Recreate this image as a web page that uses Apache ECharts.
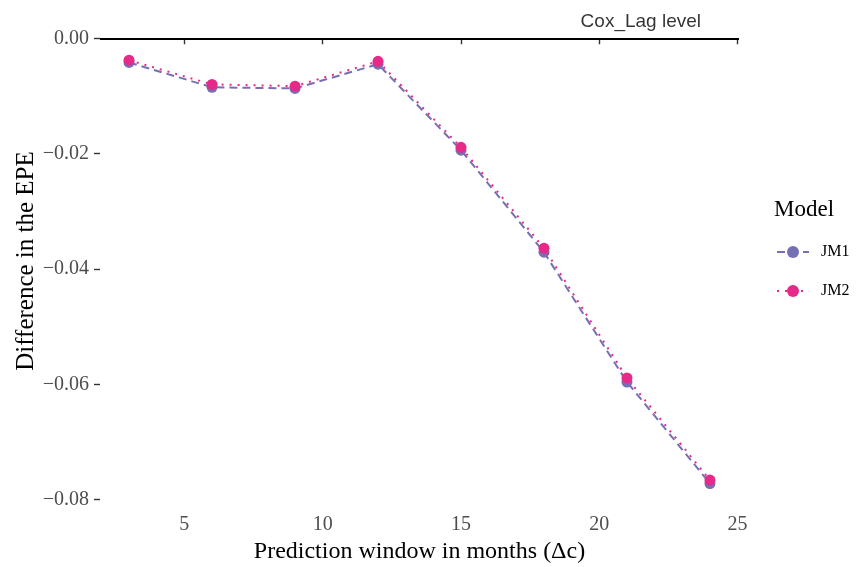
<!DOCTYPE html>
<html><head><meta charset="utf-8">
<script src="https://cdn.jsdelivr.net/npm/echarts@6/dist/echarts.min.js"></script>
<style>html,body{margin:0;padding:0;background:#fff}#c{width:862px;height:567px}</style>
</head><body><div id="c"></div>
<script>
const months = [3, 6, 9, 12, 15, 18, 21, 24];
const jm1 = [-0.0042, -0.0085, -0.0087, -0.0045, -0.0194, -0.0371, -0.0596, -0.0772];
const jm2 = [-0.0038, -0.0080, -0.0083, -0.0040, -0.0189, -0.0364, -0.0589, -0.0766];
const xTicks = [5, 10, 15, 20, 25];
const yTicks = [0, -0.02, -0.04, -0.06, -0.08];
const refLevel = 0;
const refLabel = 'Cox_Lag level';
const refLabelPos = [21.5, 0.0029];

const serif = '"Liberation Serif", "DejaVu Serif", serif';
const chart = echarts.init(document.getElementById('c'));
const fmtY = v => { const s = Math.abs(v).toFixed(2); return (v < -1e-9 ? '\u2212' : '') + s; };

chart.setOption({
  animation: false,
  backgroundColor: '#fff',
  title: {text: 'Model', left: 774, top: 198, padding: 0, textStyle: {fontFamily: serif, fontSize: 23, fontWeight: 'normal', color: '#000'}},
  legend: {
    orient: 'vertical', left: 776, top: 244, padding: 0, itemWidth: 32, itemHeight: 15, itemGap: 23,
    textStyle: {fontFamily: serif, fontSize: 16, color: '#000', padding: [0, 0, 0, 7]},
    data: ['JM1', 'JM2']
  },
  grid: {left: 100, right: 123, top: 16, bottom: 61, containLabel: false, outerBoundsMode: 'none'},
  xAxis: {
    type: 'value', min: 1.95, max: 25.05,
    name: 'Prediction window in months (\u0394c)', nameLocation: 'middle', nameGap: 34, nameMoveOverlap: false,
    nameTextStyle: {fontFamily: serif, fontSize: 24, color: '#000'},
    axisLine: {show: false},
    axisTick: {show: true, customValues: xTicks, length: 6, lineStyle: {color: '#333', width: 1.4}},
    axisLabel: {customValues: xTicks, fontFamily: serif, fontSize: 20, color: '#4d4d4d', margin: 9},
    splitLine: {show: false}
  },
  yAxis: {
    type: 'value', min: -0.0811, max: 0.00386,
    name: 'Difference in the EPE', nameLocation: 'middle', nameGap: 61, nameRotate: 90, nameMoveOverlap: false,
    nameTextStyle: {fontFamily: serif, fontSize: 25, color: '#000'},
    axisLine: {show: false},
    axisTick: {show: true, customValues: yTicks, length: 6, lineStyle: {color: '#333', width: 1.4}},
    axisLabel: {customValues: yTicks, formatter: fmtY, fontFamily: serif, fontSize: 20, color: '#4d4d4d', margin: 11},
    splitLine: {show: false}
  },
  series: [
    {
      name: 'ref', type: 'scatter', data: [refLabelPos], symbolSize: 0, silent: true,
      label: {show: true, formatter: refLabel, position: 'inside', fontFamily: '"Liberation Sans", Arial, sans-serif', fontSize: 19, color: '#000'},
      markLine: {silent: true, symbol: 'none', label: {show: false},
        lineStyle: {color: '#000', width: 2.2, type: 'solid'},
        data: [{yAxis: refLevel}]}
    },
    {
      name: 'JM1', type: 'line', data: months.map((m, i) => [m, jm1[i]]),
      symbol: 'circle', symbolSize: 11, color: '#7570B3',
      lineStyle: {color: '#7570B3', width: 2, type: [8, 5]},
      itemStyle: {color: '#7570B3'}, z: 3
    },
    {
      name: 'JM2', type: 'line', data: months.map((m, i) => [m, jm2[i]]),
      symbol: 'circle', symbolSize: 11, color: '#E7298A',
      lineStyle: {color: '#E7298A', width: 2, type: [2, 6]},
      itemStyle: {color: '#E7298A'}, z: 4
    }
  ]
});
</script></body></html>
